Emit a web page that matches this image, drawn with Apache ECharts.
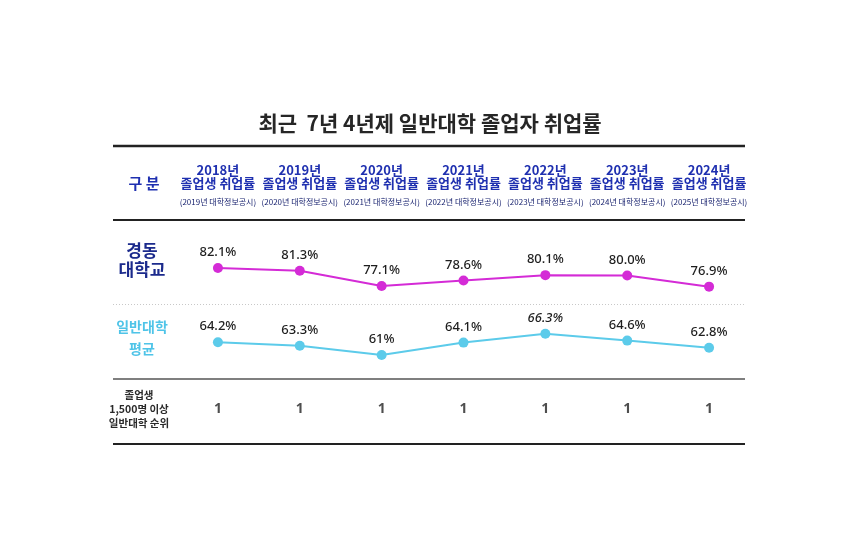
<!DOCTYPE html>
<html>
<head>
<meta charset="utf-8">
<script src="https://cdn.jsdelivr.net/npm/echarts@6/dist/echarts.min.js"></script>
<style>
  html, body { margin: 0; padding: 0; background: #fff; }
  #main { width: 860px; height: 554px; }
</style>
</head>
<body>
<div id="main"></div>
<script>
// 데이터
var years = ['2018년', '2019년', '2020년', '2021년', '2022년', '2023년', '2024년'];
var notes = ['(2019년 대학정보공시)', '(2020년 대학정보공시)', '(2021년 대학정보공시)', '(2022년 대학정보공시)',
             '(2023년 대학정보공시)', '(2024년 대학정보공시)', '(2025년 대학정보공시)'];
var kdRate = [82.1, 81.3, 77.1, 78.6, 80.1, 80.0, 76.9];
var avgRate = [64.2, 63.3, 61, 64.1, 66.3, 64.6, 62.8];
var ranks = [1, 1, 1, 1, 1, 1, 1];

var FONT = '"Noto Sans CJK KR", "Noto Sans", sans-serif';
var BLUE = '#1f30b0';
var MAGENTA = '#d42bd6';
var CYAN = '#5ccbea';

var myChart = echarts.init(document.getElementById('main'));

function hline(y, color, width, dashed) {
    return {
        type: 'line',
        shape: { x1: 113, y1: y, x2: 745, y2: y },
        style: { stroke: color, lineWidth: width, lineDash: dashed ? [1, 2] : null },
        silent: true
    };
}

var gridLeft = 177, gridRight = 110;

var option = {
    animation: false,
    textStyle: { fontFamily: FONT },
    title: {
        text: '최근  7년 4년제 일반대학 졸업자 취업률',
        left: 'center',
        top: 108,
        textStyle: { fontSize: 21, fontWeight: 'bold', color: '#262626', fontFamily: FONT }
    },
    grid: [
        { left: gridLeft, right: gridRight, top: 239.5, height: 72 },
        { left: gridLeft, right: gridRight, top: 299, height: 80 },
        { left: gridLeft, right: gridRight, top: 399, height: 20 }
    ],
    xAxis: [
        {
            gridIndex: 0, type: 'category', data: years, position: 'top',
            axisLine: { show: false }, axisTick: { show: false }, splitLine: { show: false },
            axisLabel: {
                margin: 27,
                interval: 0,
                formatter: function (v, i) {
                    return '{y|' + v + '}\n{t|졸업생 취업률}\n{n|' + notes[i] + '}';
                },
                rich: {
                    y: { fontSize: 13, fontWeight: 'bold', color: BLUE, lineHeight: 13, fontFamily: FONT },
                    t: { fontSize: 13, fontWeight: 'bold', color: BLUE, lineHeight: 14, fontFamily: FONT },
                    n: { fontSize: 8, color: '#1a2470', lineHeight: 22, fontFamily: FONT }
                }
            }
        },
        { gridIndex: 1, type: 'category', data: years, show: false },
        { gridIndex: 2, type: 'category', data: years, show: false }
    ],
    yAxis: [
        { gridIndex: 0, type: 'value', min: 70, max: 90, show: false, splitLine: { show: false } },
        { gridIndex: 1, type: 'value', min: 55, max: 75, show: false, splitLine: { show: false } },
        { gridIndex: 2, type: 'value', min: 0, max: 2, show: false, splitLine: { show: false } }
    ],
    series: [
        {
            name: '경동대학교',
            type: 'line',
            xAxisIndex: 0, yAxisIndex: 0,
            data: kdRate,
            symbol: 'circle', symbolSize: 10,
            lineStyle: { color: MAGENTA, width: 2 },
            itemStyle: { color: MAGENTA },
            label: {
                show: true, position: 'top', distance: 4,
                formatter: function (p) { return p.value.toFixed(1) + '%'; },
                fontSize: 13, fontWeight: 500, color: '#1e1e1e', fontFamily: '"Noto Sans", sans-serif'
            }
        },
        {
            name: '일반대학 평균',
            type: 'line',
            xAxisIndex: 1, yAxisIndex: 1,
            data: avgRate.map(function (v, i) {
                return i === 4 ? { value: v, label: { fontStyle: 'italic' } } : v;
            }),
            symbol: 'circle', symbolSize: 10,
            lineStyle: { color: CYAN, width: 2 },
            itemStyle: { color: CYAN },
            label: {
                show: true, position: 'top', distance: 4,
                formatter: function (p) { return p.value + '%'; },
                fontSize: 13, fontWeight: 500, color: '#1e1e1e', fontFamily: '"Noto Sans", sans-serif'
            }
        },
        {
            name: '순위',
            type: 'scatter',
            xAxisIndex: 2, yAxisIndex: 2,
            data: ranks,
            symbolSize: 1,
            itemStyle: { color: 'rgba(0,0,0,0)' },
            label: {
                show: true, position: 'inside',
                formatter: function (p) { return String(p.value); },
                fontSize: 14, fontWeight: 'bold', color: '#222', fontFamily: '"Noto Sans", sans-serif'
            }
        }
    ],
    graphic: [
        hline(146, '#222', 2.5),
        hline(220, '#222', 2),
        hline(304.5, '#c8c8c8', 1, true),
        hline(379, '#555', 1.5),
        hline(444, '#222', 2),
        {
            type: 'text', x: 144, y: 183,
            style: { text: '구 분', fill: BLUE, font: 'bold 15px ' + FONT, align: 'center', verticalAlign: 'middle' },
            silent: true
        },
        {
            type: 'text', x: 142, y: 260,
            style: { text: '경동\n대학교', fill: '#1b2a8c', font: 'bold 17px ' + FONT, align: 'center', verticalAlign: 'middle', lineHeight: 19 },
            silent: true
        },
        {
            type: 'text', x: 142, y: 338,
            style: { text: '일반대학\n평균', fill: '#4fc4e8', font: 'bold 14px ' + FONT, align: 'center', verticalAlign: 'middle', lineHeight: 22 },
            silent: true
        },
        {
            type: 'text', x: 139, y: 409,
            style: { text: '졸업생\n1,500명 이상\n일반대학 순위', fill: '#2a2a2a', font: 'bold 10.5px ' + FONT, align: 'center', verticalAlign: 'middle', lineHeight: 14 },
            silent: true
        }
    ]
};

myChart.setOption(option);
</script>
</body>
</html>
